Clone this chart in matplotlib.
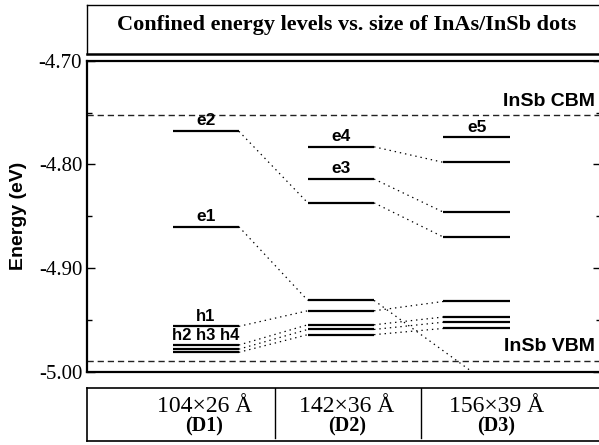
import matplotlib
matplotlib.use("Agg")
import matplotlib.pyplot as plt

plt.rcParams['lines.scale_dashes'] = False

# ---- data ----
dots = ["(D1)", "(D2)", "(D3)"]
sizes = ["104×26 Å", "142×36 Å", "156×39 Å"]
d1_levels = [-4.768, -4.860, -4.956, -4.974, -4.978, -4.981]
d2_levels = [-4.783, -4.814, -4.837, -4.931, -4.941, -4.9545, -4.959, -4.964]
d3_levels = [-4.774, -4.798, -4.846, -4.870, -4.932, -4.947, -4.952, -4.958]
e1_d3 = -5.003
cbm = -4.752
vbm = -4.989
d1_labels = {0: "e2", 1: "e1", 2: "h1", 3: "h2 h3 h4"}
d2_labels = {0: "e4", 1: "e3"}
d3_labels = {0: "e5"}
# connectors (from dot, from idx) -> (to dot, to idx)
links = [((0, 0), (1, 2)), ((0, 1), (1, 3)), ((0, 2), (1, 4)), ((0, 3), (1, 5)),
         ((0, 4), (1, 6)), ((0, 5), (1, 7)),
         ((1, 0), (2, 1)), ((1, 1), (2, 2)), ((1, 2), (2, 3)), ((1, 4), (2, 4)),
         ((1, 5), (2, 5)), ((1, 6), (2, 6)), ((1, 7), (2, 7))]
yticks = [-4.70, -4.80, -4.90, -5.00]
yticklabels = ["-4.70", "-4.80", "-4.90", "-5.00"]

# ---- layout ----
centers = [2.31, 4.94, 7.58]
half = 0.645
text_x = [2.28, 5.06, 7.96]
dividers = [3.66, 6.50]

W, H = 599, 445
fig = plt.figure(figsize=(W / 100, H / 100), dpi=100)
ax = fig.add_axes([87 / W, 1 - 372 / H, 514 / W, (372 - 60.7) / H])

levels = [d1_levels, d2_levels, d3_levels]
labels = [d1_labels, d2_labels, d3_labels]
for i, lv in enumerate(levels):
    for j, e in enumerate(lv):
        ax.plot([centers[i] - half, centers[i] + half], [e, e], color='black', lw=1.6,
                solid_capstyle='butt')
        if j in labels[i]:
            lab = labels[i][j]
            off = 2.0 if j != 3 else 1.5
            fs = 12 if lab.startswith('h') else 12.5
            ax.annotate(lab, (centers[i], e), xytext=(0, off), textcoords='offset points',
                        ha='center', va='bottom', fontsize=fs, fontweight='bold',
                        family='Liberation Sans')

for (a, ia), (b, ib) in links:
    ax.plot([centers[a] + half, centers[b] - half], [levels[a][ia], levels[b][ib]],
            color='black', lw=0.9, linestyle=(0, (1.0, 2.8)))
ax.plot([centers[1] + half, centers[2]], [d2_levels[3], e1_d3],
        color='black', lw=0.9, linestyle=(0, (1.0, 2.8)))

ax.axhline(cbm, color='#222222', lw=1.0, linestyle=(0, (4.5, 2.8)))
ax.axhline(vbm, color='#222222', lw=1.0, linestyle=(0, (4.5, 2.8)))
ax.annotate("InSb CBM", (9.88, cbm), xytext=(0, 3), textcoords='offset points',
            ha='right', va='bottom', fontsize=14, fontweight='bold', family='Liberation Sans')
ax.annotate("InSb VBM", (9.88, vbm), xytext=(0, 4), textcoords='offset points',
            ha='right', va='bottom', fontsize=14, fontweight='bold', family='Liberation Sans')

ax.set_xlim(0, 10)
ax.set_ylim(-5.00, -4.70)
ax.set_xticks([])
ax.set_yticks(yticks)
ax.set_yticklabels(yticklabels, family='Liberation Serif', fontsize=15)
ax.set_yticks([-4.75, -4.85, -4.95], minor=True)
ax.tick_params(axis='y', which='major', direction='in', length=6, width=1.0,
               right=True, pad=3.5)
ax.tick_params(axis='y', which='minor', direction='in', length=3.5, width=1.0, right=True)
for s in ax.spines.values():
    s.set_linewidth(1.6)
ax.set_ylabel("Energy (eV)", fontsize=14, fontweight='bold', family='Liberation Sans')
ax.yaxis.set_label_coords(-0.117, 0.5)

# title box
axt = fig.add_axes([87 / W, 1 - 54 / H, 514 / W, 49 / H])
axt.set_xticks([]); axt.set_yticks([])
axt.spines['top'].set_linewidth(1.0)
axt.spines['bottom'].set_linewidth(1.8)
axt.spines['left'].set_linewidth(1.0)
fig.text(347 / W, 1 - 25 / H, "Confined energy levels vs. size of InAs/InSb dots",
         ha='center', va='center', fontsize=16, fontweight='bold', family='Liberation Serif')

# table box
axb = fig.add_axes([87 / W, 1 - 441 / H, 514 / W, 53 / H])
axb.set_xlim(0, 10); axb.set_ylim(0, 1)
axb.set_xticks([]); axb.set_yticks([])
for s in axb.spines.values():
    s.set_linewidth(1.2)
for d in dividers:
    axb.plot([d, d], [0.06, 1], color='black', lw=1.0)
for i in range(3):
    axb.text(text_x[i], 0.66, sizes[i], ha='center', va='center', fontsize=17,
             family='Liberation Serif')
    axb.text(text_x[i], 0.27, dots[i], ha='center', va='center', fontsize=14.5,
             fontweight='bold', family='Liberation Serif')

fig.savefig("out.png", dpi=100)
